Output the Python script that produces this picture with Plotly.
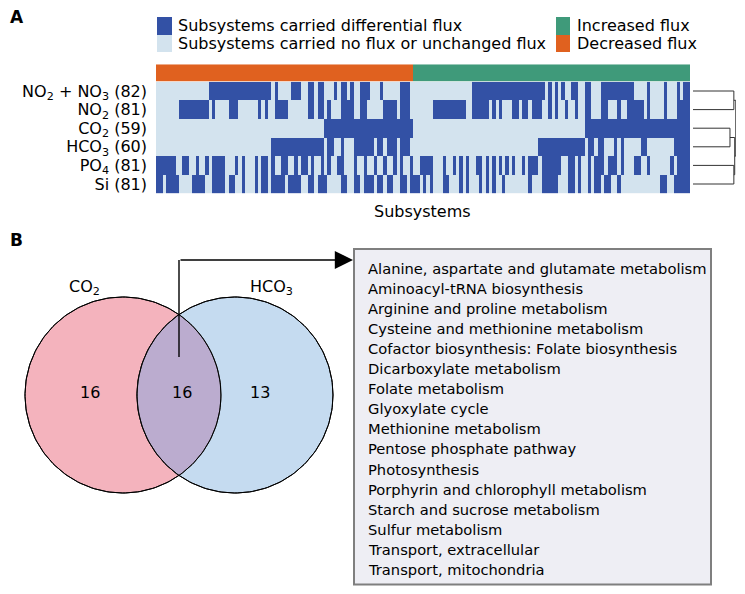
import numpy as np
import plotly.graph_objects as go

W, H = 745, 594
OFF = 8  # page body margin around the figure
FW, FH = W - 2 * OFF, H - 2 * OFF
FONT = "DejaVu Sans"

# ---- data: panel A -------------------------------------------------------
conditions = ["NO<sub>2</sub> + NO<sub>3</sub>", "NO<sub>2</sub>", "CO<sub>2</sub>",
              "HCO<sub>3</sub>", "PO<sub>4</sub>", "Si"]
condition_counts = [82, 81, 59, 60, 81, 81]
n_decreased = 78
n_increased = 84

# subsystems (column index ranges, inclusive) that carry differential flux
runs_no2_no3 = [(16, 34), (36, 36), (41, 43), (46, 47), (49, 50), (54, 54), (56, 57), (59, 59),
                (62, 64), (68, 68), (74, 76), (96, 117), (119, 119), (121, 121), (123, 123),
                (126, 127), (130, 131), (135, 144), (149, 149), (154, 154), (158, 158), (160, 161)]
runs_no2 = [(7, 15), (17, 17), (22, 24), (31, 31), (33, 33), (36, 39), (46, 47), (49, 50), (52, 52),
            (56, 59), (62, 63), (69, 72), (74, 76), (84, 93), (96, 100), (102, 102), (104, 104),
            (108, 109), (111, 112), (114, 116), (119, 119), (121, 121), (124, 124), (127, 127),
            (130, 131), (135, 136), (140, 140), (143, 147), (149, 149), (154, 154), (158, 161)]
runs_co2 = [(51, 77), (130, 161)]
runs_hco3 = [(35, 50), (52, 53), (56, 56), (60, 65), (67, 68), (70, 72), (74, 76), (116, 129),
             (131, 132), (134, 135), (139, 139), (141, 141), (147, 148), (157, 161)]
runs_po4 = [(0, 5), (8, 9), (12, 12), (15, 15), (17, 20), (24, 24), (26, 26), (30, 30), (32, 33),
            (35, 35), (38, 39), (42, 42), (44, 45), (47, 47), (50, 50), (52, 52), (55, 56), (60, 60),
            (63, 63), (66, 66), (69, 69), (72, 72), (74, 74), (77, 77), (80, 83), (87, 87), (90, 90),
            (92, 92), (94, 94), (97, 98), (100, 100), (102, 102), (104, 104), (106, 106), (108, 108),
            (111, 111), (113, 115), (117, 122), (125, 126), (128, 128), (131, 131), (133, 135),
            (137, 139), (141, 141), (145, 146), (149, 149), (156, 156), (158, 161)]
runs_si = [(0, 1), (3, 6), (11, 14), (17, 20), (22, 23), (26, 26), (30, 30), (32, 33), (35, 38),
           (40, 43), (46, 47), (49, 51), (56, 57), (60, 61), (63, 65), (67, 68), (70, 71), (74, 75),
           (77, 79), (81, 81), (83, 83), (87, 88), (92, 92), (94, 94), (98, 98), (100, 100),
           (102, 102), (105, 105), (113, 113), (117, 121), (125, 126), (128, 128), (131, 131),
           (133, 134), (136, 137), (140, 140), (153, 154), (157, 161)]
all_runs = [runs_no2_no3, runs_no2, runs_co2, runs_hco3, runs_po4, runs_si]

# hierarchical clustering of the conditions: (child, child, height); leaves 0-5
dendro_links = [(2, 3, 0.86), (4, 5, 0.95), (0, 1, 0.95), (6, 7, 0.97), (8, 9, 0.995)]

# ---- data: panel B -------------------------------------------------------
venn_sets = ["CO<sub>2</sub>", "HCO<sub>3</sub>"]
venn_counts = [16, 16, 13]  # CO2 only, shared, HCO3 only
shared_subsystems = [
    "Alanine, aspartate and glutamate metabolism",
    "Aminoacyl-tRNA biosynthesis",
    "Arginine and proline metabolism",
    "Cysteine and methionine metabolism",
    "Cofactor biosynthesis: Folate biosynthesis",
    "Dicarboxylate metabolism",
    "Folate metabolism",
    "Glyoxylate cycle",
    "Methionine metabolism",
    "Pentose phosphate pathway",
    "Photosynthesis",
    "Porphyrin and chlorophyll metabolism",
    "Starch and sucrose metabolism",
    "Sulfur metabolism",
    "Transport, extracellular",
    "Transport, mitochondria",
]

DARK, LIGHT = "#3351a5", "#d3e3ee"
GREEN, ORANGE = "#3f9a7a", "#e0611f"

n_sub = n_decreased + n_increased


def to_row(runs):
    row = np.zeros(n_sub)
    for a, b in runs:
        row[a:b + 1] = 1
    return row


z = np.array([to_row(r) for r in all_runs])
direction = np.array([[0] * n_decreased + [1] * n_increased])


def px(x):
    return (x - OFF) / FW


def py(y):
    return 1 - (y - OFF) / FH


fig = go.Figure()

fig.add_trace(go.Heatmap(z=z, x=np.arange(n_sub), y=np.arange(len(conditions)),
                         colorscale=[[0, LIGHT], [0.5, LIGHT], [0.5, DARK], [1, DARK]],
                         zmin=0, zmax=1, showscale=False, hoverinfo="skip",
                         xaxis="x", yaxis="y"))
fig.add_trace(go.Heatmap(z=direction, x=np.arange(n_sub), y=[0],
                         colorscale=[[0, ORANGE], [0.5, ORANGE], [0.5, GREEN], [1, GREEN]],
                         zmin=0, zmax=1, showscale=False, hoverinfo="skip",
                         xaxis="x2", yaxis="y2"))

# dendrogram
pos = {i: (0.0, float(i)) for i in range(len(conditions))}
for k, (a, b, h) in enumerate(dendro_links):
    ha, ya = pos[a]
    hb, yb = pos[b]
    fig.add_trace(go.Scatter(x=[ha, h, h, hb], y=[ya, ya, yb, yb], mode="lines",
                             line=dict(color="#333333", width=1), hoverinfo="skip",
                             showlegend=False, xaxis="x4", yaxis="y4"))
    pos[len(conditions) + k] = (h, (ya + yb) / 2)

# venn (overlay axis in window pixel units)
c1, c2, r = (123, 395), (235, 395), 98
t = np.linspace(0, 2 * np.pi, 200)
for (cx, cy), col in [(c1, "#f4b3bd"), (c2, "#c5dbf0")]:
    fig.add_trace(go.Scatter(x=cx + r * np.cos(t), y=cy + r * np.sin(t), mode="lines",
                             fill="toself", fillcolor=col, line=dict(color="black", width=1),
                             hoverinfo="skip", showlegend=False, xaxis="x3", yaxis="y3"))
d = c2[0] - c1[0]
th = np.arccos(d / 2 / r)
a1 = np.linspace(-th, th, 80)
a2 = np.linspace(np.pi - th, np.pi + th, 80)
lx = np.concatenate([c1[0] + r * np.cos(a1), c2[0] + r * np.cos(a2)])
ly = np.concatenate([c1[1] + r * np.sin(a1), c2[1] + r * np.sin(a2)])
fig.add_trace(go.Scatter(x=lx, y=ly, mode="lines", fill="toself", fillcolor="#bbaccf",
                         line=dict(color="#333333", width=1), hoverinfo="skip",
                         showlegend=False, xaxis="x3", yaxis="y3"))
for (cx, cy) in [c1, c2]:
    fig.add_trace(go.Scatter(x=cx + r * np.cos(t), y=cy + r * np.sin(t), mode="lines",
                             line=dict(color="black", width=1), hoverinfo="skip",
                             showlegend=False, xaxis="x3", yaxis="y3"))

ann = []


def text(x, y, s, size=16, anchor="center"):
    ann.append(dict(x=x, y=y, xref="x3", yref="y3", text=s, showarrow=False,
                    xanchor=anchor, yanchor="middle",
                    font=dict(family=FONT, size=size, color="black")))


text(OFF, 17, "<b>A</b>", 17, "left")
text(OFF, 240, "<b>B</b>", 17, "left")
text(176, 25.5, "Subsystems carried differential flux", 16, "left")
text(176, 43, "Subsystems carried no flux or unchanged flux", 16, "left")
text(575, 25.5, "Increased flux", 16, "left")
text(575, 43, "Decreased flux", 16, "left")
text(422, 211, "Subsystems", 16)

text(84, 287, venn_sets[0], 16)
text(271, 287, venn_sets[1], 16)
text(90, 392, str(venn_counts[0]), 16)
text(182, 392, str(venn_counts[1]), 16)
text(260, 392, str(venn_counts[2]), 16)

for i, name in enumerate(shared_subsystems):
    text(366, 268 + i * 20.1, name, 14.7, "left")

ann.append(dict(x=353, y=260, ax=179, ay=260, xref="x3", yref="y3", axref="x3", ayref="y3",
                text="", showarrow=True, arrowhead=2, arrowsize=2.6, arrowwidth=1.4,
                arrowcolor="black"))

shapes = [
    dict(type="rect", xref="x3", yref="y3", x0=157, x1=172, y0=17, y1=35,
         fillcolor=DARK, line=dict(width=0)),
    dict(type="rect", xref="x3", yref="y3", x0=157, x1=172, y0=35, y1=52,
         fillcolor=LIGHT, line=dict(width=0)),
    dict(type="rect", xref="x3", yref="y3", x0=556, x1=570, y0=17, y1=35,
         fillcolor=GREEN, line=dict(width=0)),
    dict(type="rect", xref="x3", yref="y3", x0=556, x1=570, y0=35, y1=52,
         fillcolor=ORANGE, line=dict(width=0)),
    dict(type="rect", xref="x3", yref="y3", x0=354, x1=711, y0=249, y1=H - OFF - 1.5,
         fillcolor="#eeeef4", line=dict(color="#7f7f7f", width=2), layer="below"),
    dict(type="line", xref="x3", yref="y3", x0=179, x1=179, y0=357, y1=260,
         line=dict(color="black", width=1.4)),
]

hm_dom = [py(193.3), py(81.7)]
noax = dict(showgrid=False, zeroline=False, showticklabels=False, ticks="", showline=False)

fig.update_layout(
    width=FW, height=FH, margin=dict(l=0, r=0, t=0, b=0),
    paper_bgcolor="white", plot_bgcolor="rgba(0,0,0,0)", showlegend=False,
    xaxis=dict(domain=[px(156), px(690)], range=[-0.5, n_sub - 0.5], **noax),
    yaxis=dict(domain=hm_dom, range=[5.5, -0.5], showgrid=False, zeroline=False,
               tickvals=list(range(len(conditions))),
               ticktext=[f"{c} ({n})" for c, n in zip(conditions, condition_counts)],
               tickfont=dict(family=FONT, size=16, color="black"), ticks="",
               ticklabelstandoff=8),
    xaxis2=dict(domain=[px(156), px(690)], range=[-0.5, n_sub - 0.5], anchor="y2", **noax),
    yaxis2=dict(domain=[py(81.7), py(64.3)], range=[-0.5, 0.5], anchor="x2", **noax),
    xaxis3=dict(domain=[0, 1], range=[OFF, OFF + FW], anchor="y3", **noax),
    yaxis3=dict(domain=[0, 1], range=[OFF + FH, OFF], anchor="x3", **noax),
    xaxis4=dict(domain=[px(693), px(736)], range=[0, 1], anchor="y4", **noax),
    yaxis4=dict(domain=hm_dom, range=[5.5, -0.5], anchor="x4", **noax),
    annotations=ann, shapes=shapes,
)

fig.write_html("out.html")
